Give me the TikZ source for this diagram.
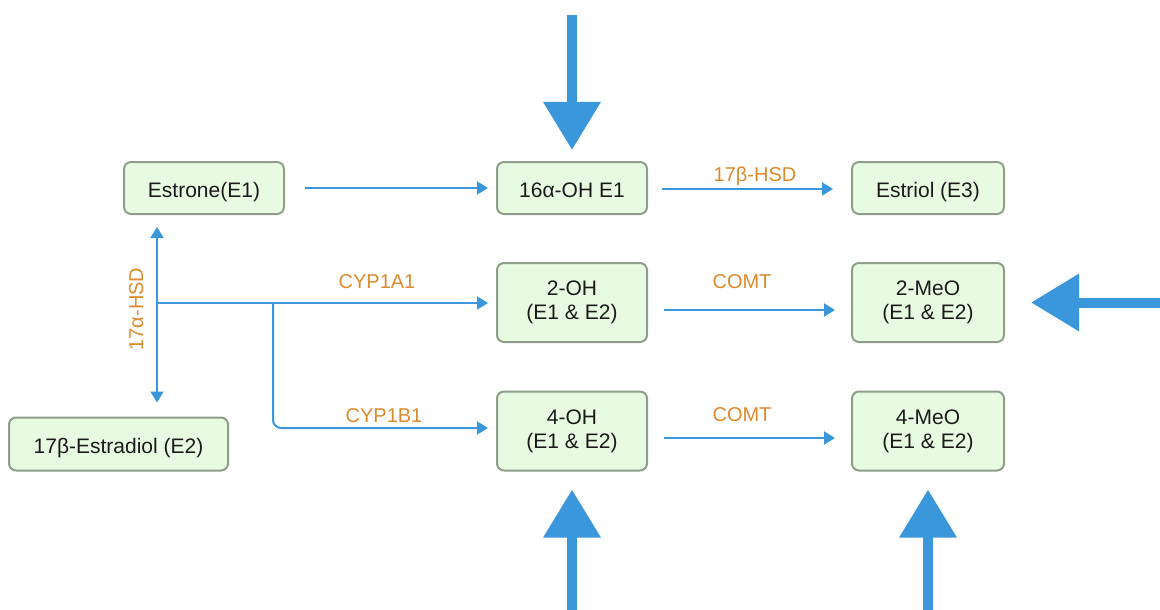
\documentclass[tikz,border=0pt]{standalone}
\usepackage{fontspec}
\setmainfont{Liberation Sans}
\usetikzlibrary{arrows.meta,calc}

\definecolor{flowblue}{HTML}{3A97DB}
\definecolor{boxfill}{HTML}{E8FBE2}
\definecolor{boxedge}{HTML}{8E9E8A}
\definecolor{enzorange}{HTML}{DB8A2C}
\definecolor{inkblack}{HTML}{1A1A1A}

\begin{document}
\begin{tikzpicture}[x=1pt,y=-1pt,
  metab/.style={draw=boxedge, fill=boxfill, line width=2pt, rounded corners=7pt,
    align=center, font=\fontsize{21}{24}\selectfont, text=inkblack, inner sep=0pt},
  smallbox/.style={metab, minimum height=52pt, text height=22pt, text depth=4pt},
  tallbox/.style={metab, minimum height=79pt},
  flow/.style={draw=flowblue, line width=2pt, -{Triangle[length=11pt,width=13pt]}},
  bigflow/.style={draw=flowblue, line width=10pt, -{Triangle[length=48pt,width=55pt]}},
  enz/.style={text=enzorange, font=\fontsize{20}{24}\selectfont, inner sep=0pt, anchor=base}]

\useasboundingbox (0,0) rectangle (1160,610);

% metabolites
\node[smallbox, minimum width=160pt] (e1)   at (204,188)   {Estrone(E1)};
\node[smallbox, minimum width=150pt] (oh16) at (572,188)   {16α-OH E1};
\node[smallbox, minimum width=152pt] (e3)   at (928,188)   {Estriol (E3)};
\node[tallbox,  minimum width=150pt] (oh2)  at (572,302.5) {2-OH\\(E1 \& E2)};
\node[tallbox,  minimum width=152pt] (meo2) at (928,302.5) {2-MeO\\(E1 \& E2)};
\node[tallbox,  minimum width=150pt] (oh4)  at (572,431)   {4-OH\\(E1 \& E2)};
\node[tallbox,  minimum width=152pt] (meo4) at (928,431)   {4-MeO\\(E1 \& E2)};
\node[smallbox, minimum width=219pt, minimum height=53pt] (e2) at (118.5,444) {17β-Estradiol (E2)};

% branch points of the hydroxylation lines
\coordinate (hub)   at (157,303);
\coordinate (split) at (273,303);
\coordinate (bend)  at (273,428);

% thin reaction arrows
\draw[flow] ($(e1.east)+(20,0)$) -- ($(oh16.west)+(-8,0)$);
\draw[flow] ($(oh16.east)+(14,1)$) -- ($(e3.west)+(-18,1)$);
\draw[flow, {Triangle[length=11pt,width=13pt]}-{Triangle[length=11pt,width=13pt]}]
  ($(e1.south -| hub)+(0,12)$) -- ($(e2.north -| hub)+(0,-14)$);
\draw[flow] (hub) -- ($(oh2.west |- hub)+(-8,0)$);
\draw[flow, rounded corners=8pt] (split) -- (bend) -- ($(oh4.west |- bend)+(-8,0)$);
\draw[flow] ($(oh2.east)+(16,7.5)$) -- ($(meo2.west)+(-16,7.5)$);
\draw[flow] ($(oh4.east)+(16,7)$) -- ($(meo4.west)+(-16,7)$);

% enzyme labels
\node[enz] (hsd17b) at (755,181) {17β-HSD};
\node[enz] (cyp1a1) at (377,288) {CYP1A1};
\node[enz] (cyp1b1) at (384,422) {CYP1B1};
\node[enz] (comt2)  at (742,288) {COMT};
\node[enz] (comt4)  at (742,421) {COMT};
\node[enz, rotate=90] (hsd17a) at (143,309) {17α-HSD};

% large inflow arrows
\coordinate (inTop)    at (572,15);
\coordinate (inRight)  at (1160,302.5);
\coordinate (inBotL)   at (572,610);
\coordinate (inBotR)   at (928,610);
\draw[bigflow] (inTop)   -- ($(oh16.north)+(0,-11)$);
\draw[bigflow] (inRight) -- ($(meo2.east)+(26,0)$);
\draw[bigflow] (inBotL)  -- ($(oh4.south)+(0,18)$);
\draw[bigflow] (inBotR)  -- ($(meo4.south)+(0,18)$);
\end{tikzpicture}
\end{document}
